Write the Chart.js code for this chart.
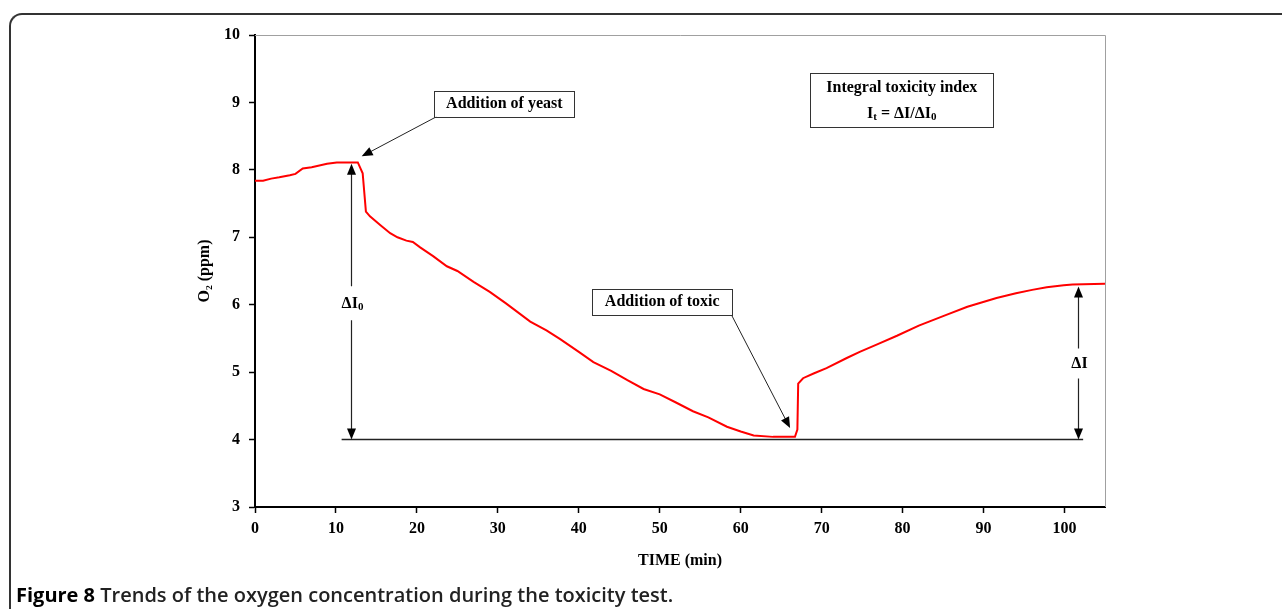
<!DOCTYPE html>
<html>
<head>
<meta charset="utf-8">
<script src="https://cdn.jsdelivr.net/npm/chart.js@4.4.1/dist/chart.umd.min.js"></script>
<style>
html, body { margin: 0; padding: 0; background: #fff; }
#wrap { position: relative; width: 1282px; height: 609px; overflow: hidden; }
#frame { position: absolute; left: 9px; top: 13px; width: 1300px; height: 640px;
  border-left: 2px solid #333; border-top: 2px solid #333; border-top-left-radius: 13px; }
#caption { position: absolute; left: 16px; top: 585px; font-family: "Open Sans", sans-serif;
  font-size: 20px; line-height: 20px; font-weight: 600; color: #222; white-space: nowrap; }
#caption b { font-weight: 700; color: #000; }
canvas { position: absolute; left: 0; top: 0; }
</style>
</head>
<body>
<div id="wrap">
  <div id="frame"></div>
  <canvas id="o2Chart" width="1282" height="609"></canvas>
  <div id="caption"><b>Figure 8</b> Trends of the oxygen concentration during the toxicity test.</div>
</div>
<script>
// readings
const timeMin = [0, 1, 2, 3, 4.3, 5, 5.9, 7, 8.9, 10.1, 12.7, 13.3, 13.7, 14.2, 15.5, 16.7,
  17.6, 18.7, 19.5, 20.4, 22, 23.7, 25, 27, 29, 31, 34, 36, 37.7, 40, 41.8, 44, 46, 48,
  50, 52, 54.1, 56, 58.3, 60, 61.6, 64, 66.7, 67.0, 67.1, 67.7, 69, 70.6, 73.1, 74.7,
  77, 79.3, 82, 85.4, 88, 91.6, 94, 96, 97.8, 99.9, 101, 105];
const oxygenPpm = [7.84, 7.84, 7.87, 7.89, 7.92, 7.94, 8.02, 8.04, 8.09, 8.11, 8.11, 7.95,
  7.38, 7.31, 7.18, 7.06, 7.00, 6.95, 6.93, 6.85, 6.72, 6.57, 6.50, 6.34, 6.19, 6.02, 5.75,
  5.62, 5.49, 5.30, 5.15, 5.02, 4.88, 4.75, 4.67, 4.55, 4.42, 4.33, 4.19, 4.12, 4.06, 4.04,
  4.04, 4.15, 4.83, 4.91, 4.98, 5.06, 5.21, 5.30, 5.42, 5.54, 5.69, 5.85, 5.97, 6.10, 6.17,
  6.22, 6.26, 6.29, 6.30, 6.31];
const xTickValues = [0, 10, 20, 30, 40, 50, 60, 70, 80, 90, 100];
const yTickValues = [3, 4, 5, 6, 7, 8, 9, 10];

// annotation anchors in data units (min, ppm)
const baseLine = { from: 10.7, to: 102.3, y: 4 };
const deltaI0 = { x: 11.85, from: 4, to: 8.09, label: 6.02 };
const deltaI = { x: 101.7, from: 4, to: 6.27, label: 5.13 };
const yeastNote = { x: 30.8, y: 8.98, arrowFrom: [22.45, 8.79], arrowTo: [13.18, 8.20] };
const toxicNote = { x: 50.3, y: 6.04, arrowFrom: [58.9, 5.84], arrowTo: [66.1, 4.17] };
const indexNote = { x: 79.9, y: 9.03 };

const serif = '"Liberation Serif", "Times New Roman", serif';
const boldSerif = 'bold 16px ' + serif;
const subSerif = 'bold 11px ' + serif;

function head(ctx, x1, y1, x2, y2) {
  const a = Math.atan2(y2 - y1, x2 - x1), len = 11, w = 4.5;
  ctx.beginPath();
  ctx.moveTo(x2, y2);
  ctx.lineTo(x2 - len * Math.cos(a) + w * Math.sin(a), y2 - len * Math.sin(a) - w * Math.cos(a));
  ctx.lineTo(x2 - len * Math.cos(a) - w * Math.sin(a), y2 - len * Math.sin(a) + w * Math.cos(a));
  ctx.closePath();
  ctx.fill();
}

// parts: [text, isSub]
function richText(ctx, parts, cx, cy) {
  let total = 0;
  parts.forEach(p => { ctx.font = p[1] ? subSerif : boldSerif; total += ctx.measureText(p[0]).width; });
  let x = cx - total / 2;
  ctx.textAlign = 'left';
  ctx.textBaseline = 'middle';
  parts.forEach(p => {
    ctx.font = p[1] ? subSerif : boldSerif;
    ctx.fillText(p[0], x, p[1] ? cy + 4 : cy);
    x += ctx.measureText(p[0]).width;
  });
}

function box(ctx, cx, cy, w, h) {
  ctx.fillStyle = '#fff';
  ctx.fillRect(cx - w / 2, cy - h / 2, w, h);
  ctx.strokeStyle = '#333';
  ctx.lineWidth = 1;
  ctx.strokeRect(Math.round(cx - w / 2) + 0.5, Math.round(cy - h / 2) + 0.5, w, h);
  ctx.fillStyle = '#000';
}

const plotFrame = {
  id: 'plotFrame',
  beforeDatasetsDraw(chart) {
    const { ctx, chartArea: a } = chart;
    ctx.save();
    ctx.strokeStyle = '#a0a0a0';
    ctx.lineWidth = 1;
    ctx.beginPath();
    ctx.moveTo(a.left, a.top + 0.5);
    ctx.lineTo(a.right + 0.5, a.top + 0.5);
    ctx.lineTo(a.right + 0.5, a.bottom);
    ctx.stroke();
    ctx.restore();
  }
};

const notes = {
  id: 'notes',
  afterDatasetsDraw(chart) {
    const { ctx } = chart;
    const xs = chart.scales.x, ys = chart.scales.y;
    const px = v => xs.getPixelForValue(v), py = v => ys.getPixelForValue(v);
    ctx.save();
    ctx.strokeStyle = '#222';
    ctx.fillStyle = '#000';

    // reference line at 4 ppm
    ctx.lineWidth = 1.5;
    ctx.beginPath();
    ctx.moveTo(px(baseLine.from), py(baseLine.y));
    ctx.lineTo(px(baseLine.to), py(baseLine.y));
    ctx.stroke();

    // vertical double arrows with label gap
    [[deltaI0, [['ΔI', false], ['0', true]], 17], [deltaI, [['ΔI', false]], 15]].forEach(([d, label, gap]) => {
      const x = Math.round(px(d.x)) + 0.5, y0 = py(d.from), y1 = py(d.to), ly = py(d.label);
      ctx.lineWidth = 1.2;
      ctx.beginPath();
      ctx.moveTo(x, y0 - 8); ctx.lineTo(x, ly + gap);
      ctx.moveTo(x, ly - gap); ctx.lineTo(x, y1 + 8);
      ctx.stroke();
      head(ctx, x, y0 - 20, x, y0);
      head(ctx, x, y1 + 20, x, y1);
      richText(ctx, label, x + 1, ly);
    });

    // slanted arrows to the events
    [yeastNote, toxicNote].forEach(n => {
      const x1 = px(n.arrowFrom[0]), y1 = py(n.arrowFrom[1]);
      const x2 = px(n.arrowTo[0]), y2 = py(n.arrowTo[1]);
      const a = Math.atan2(y2 - y1, x2 - x1);
      ctx.lineWidth = 1;
      ctx.beginPath();
      ctx.moveTo(x1, y1);
      ctx.lineTo(x2 - 8 * Math.cos(a), y2 - 8 * Math.sin(a));
      ctx.stroke();
      head(ctx, x1, y1, x2, y2);
    });

    box(ctx, px(yeastNote.x), py(yeastNote.y), 140, 26);
    richText(ctx, [['Addition of yeast', false]], px(yeastNote.x), py(yeastNote.y));
    box(ctx, px(toxicNote.x), py(toxicNote.y), 140, 26);
    richText(ctx, [['Addition of toxic', false]], px(toxicNote.x), py(toxicNote.y));

    const ix = px(indexNote.x), iy = py(indexNote.y);
    box(ctx, ix, iy, 183, 54);
    richText(ctx, [['Integral toxicity index', false]], ix, iy - 13);
    richText(ctx, [['I', false], ['t', true], [' = ΔI/ΔI', false], ['0', true]], ix, iy + 13);
    ctx.restore();
  }
};

const tickFont = { family: serif, size: 16, weight: 'bold' };

new Chart(document.getElementById('o2Chart').getContext('2d'), {
  type: 'line',
  data: {
    datasets: [{
      data: timeMin.map((t, i) => ({ x: t, y: oxygenPpm[i] })),
      borderColor: '#ff0000',
      borderWidth: 2,
      pointRadius: 0,
      tension: 0,
      fill: false
    }]
  },
  options: {
    responsive: false,
    animation: false,
    devicePixelRatio: 1,
    layout: { padding: { top: 35, right: 177, left: 0, bottom: 0 } },
    plugins: { legend: { display: false }, tooltip: { enabled: false } },
    scales: {
      x: {
        type: 'linear', min: 0, max: 105,
        afterFit(s) { s.height = 102; },
        afterBuildTicks(s) { s.ticks = xTickValues.map(v => ({ value: v })); },
        ticks: { color: '#000', font: tickFont, padding: 6, maxRotation: 0, autoSkip: false },
        grid: { drawOnChartArea: false, tickLength: 6, tickColor: '#000', tickWidth: 1.5 },
        border: { color: '#000', width: 2 },
        title: { display: true, text: 'TIME (min)', color: '#000', font: tickFont, padding: { top: 0, bottom: 39 } }
      },
      y: {
        type: 'linear', min: 3, max: 10,
        afterFit(s) { s.width = 255; },
        afterBuildTicks(s) { s.ticks = yTickValues.map(v => ({ value: v })); },
        ticks: { color: '#000', font: tickFont, padding: 9, autoSkip: false },
        grid: { drawOnChartArea: false, tickLength: 6, tickColor: '#000', tickWidth: 1.5 },
        border: { color: '#000', width: 2 },
        title: { display: true, text: 'O₂ (ppm)', color: '#000', font: tickFont, padding: { top: 195, bottom: 0 } }
      }
    }
  },
  plugins: [plotFrame, notes]
});
</script>
</body>
</html>
